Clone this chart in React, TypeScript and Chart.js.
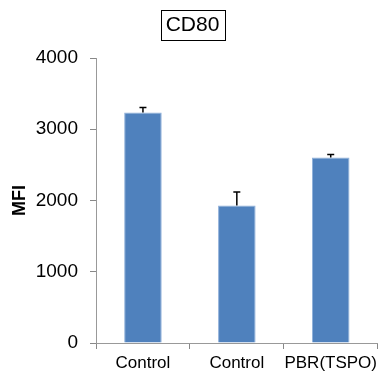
import React, { useEffect, useRef } from "react";
import { Chart, registerables } from "chart.js";

Chart.register(...registerables);

const chartTitle = "CD80";
const categories = ["Control", "Control", "PBR(TSPO)"];
const mfiValues = [3235, 1930, 2605];
const mfiErrors = [70, 190, 40];
const yTicks = [0, 1000, 2000, 3000, 4000];
const yAxisLabel = "MFI";

const FONT = "'Liberation Sans', Arial, sans-serif";

const errorBarPlugin = {
  id: "errorBars",
  afterDatasetsDraw(chart: any) {
    const ctx = chart.ctx;
    const meta = chart.getDatasetMeta(0);
    const yScale = chart.scales.y;
    ctx.save();
    ctx.strokeStyle = "#000";
    ctx.lineWidth = 1.5;
    meta.data.forEach((bar: any, i: number) => {
      const top = yScale.getPixelForValue(mfiValues[i] + mfiErrors[i]);
      const x = bar.x;
      ctx.beginPath();
      ctx.moveTo(x, bar.y);
      ctx.lineTo(x, top);
      ctx.moveTo(x - 3.5, top);
      ctx.lineTo(x + 3.5, top);
      ctx.stroke();
    });
    ctx.restore();
  },
};

const boxedTitlePlugin = {
  id: "boxedTitle",
  afterDraw(chart: any) {
    const ctx = chart.ctx;
    ctx.save();
    ctx.font = `21px ${FONT}`;
    const w = ctx.measureText(chartTitle).width;
    const cx = chart.width / 2 + 2;
    const cy = 25;
    ctx.fillStyle = "#000";
    ctx.textAlign = "center";
    ctx.textBaseline = "middle";
    ctx.fillText(chartTitle, cx, cy);
    ctx.strokeStyle = "#000";
    ctx.lineWidth = 1;
    const bw = w + 10;
    const bh = 30;
    ctx.strokeRect(Math.round(cx - bw / 2) + 0.5, Math.round(cy - bh / 2) + 0.5, Math.round(bw), bh);
    ctx.restore();
  },
};

export default function App() {
  const ref = useRef<HTMLCanvasElement | null>(null);
  useEffect(() => {
    document.body.style.margin = "0";
    if (!ref.current) return;
    const chart = new Chart(ref.current, {
      type: "bar",
      data: {
        labels: categories,
        datasets: [
          {
            data: mfiValues,
            backgroundColor: "#4F81BD",
            borderColor: "#8FB0DA",
            borderWidth: 1,
            barPercentage: 0.4,
            categoryPercentage: 1,
          },
        ],
      },
      options: {
        animation: false,
        responsive: false,
        maintainAspectRatio: false,
        layout: { padding: { top: 58, right: 0, left: 0, bottom: 0 } },
        plugins: {
          legend: { display: false },
          title: { display: false },
          tooltip: { enabled: false },
        },
        scales: {
          x: {
            offset: true,
            grid: {
              offset: true,
              drawOnChartArea: false,
              drawTicks: true,
              tickLength: 6,
              color: "#888",
            },
            border: { color: "#999", width: 1 },
            ticks: {
              color: "#000",
              font: { family: FONT, size: 17 },
              padding: 4,
              maxRotation: 0,
              autoSkip: false,
            },
            afterFit(scale: any) {
              scale.height = 39;
            },
          },
          y: {
            min: 0,
            max: 4000,
            afterBuildTicks(scale: any) {
              scale.ticks = yTicks.map((v) => ({ value: v }));
            },
            grid: {
              drawOnChartArea: false,
              drawTicks: true,
              tickLength: 6,
              color: "#888",
            },
            border: { color: "#999", width: 1 },
            ticks: {
              color: "#000",
              font: { family: FONT, size: 19 },
              padding: 12,
              callback: (v: any) => String(v),
            },
            title: {
              display: true,
              text: yAxisLabel,
              color: "#000",
              font: { family: FONT, size: 18, weight: "bold" },
              padding: { top: 9, bottom: 0 },
            },
            afterFit(scale: any) {
              scale.width = 96;
            },
          },
        },
      },
      plugins: [errorBarPlugin, boxedTitlePlugin],
    });
    return () => chart.destroy();
  }, []);
  return (
    <div style={{ width: 381, height: 382 }}>
      <canvas ref={ref} width={381} height={382} style={{ display: "block" }} />
    </div>
  );
}
